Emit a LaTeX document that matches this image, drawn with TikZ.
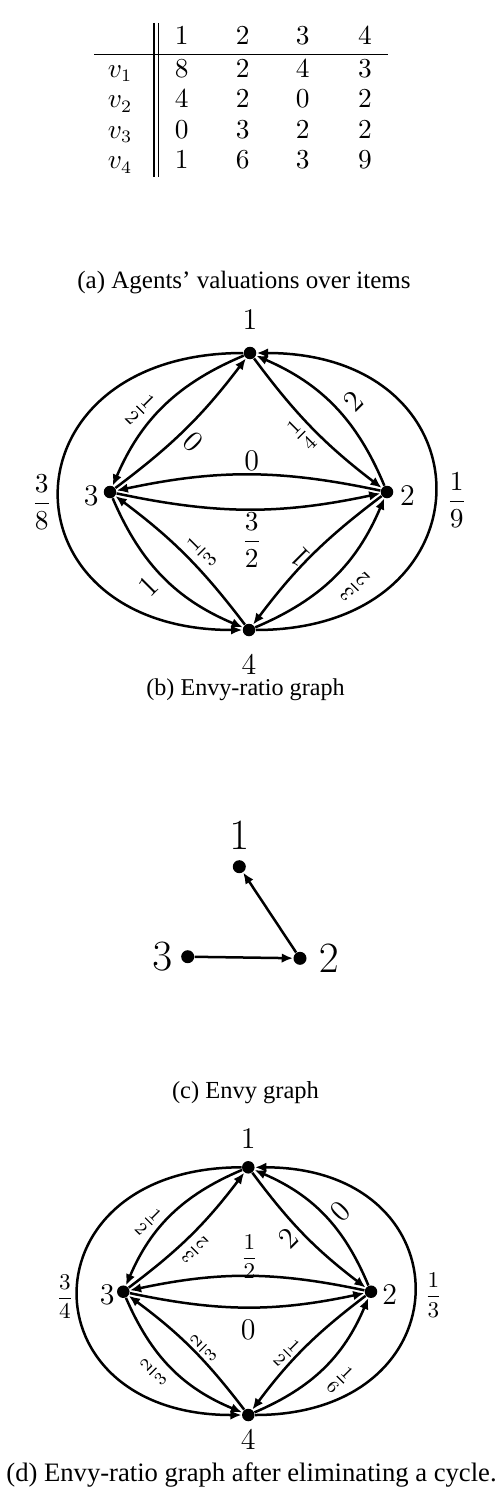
\documentclass[tikz,border=0pt]{standalone}
\usepackage{amsmath}
\usepackage{fontspec}
\newfontfamily\capfont{Liberation Serif}
\usetikzlibrary{arrows.meta, positioning}

\tikzset{
  vtx/.style={circle, fill=black, inner sep=0pt, minimum size=#1},
  vtx/.default=5pt,
  vname/.style={inner sep=0pt, font=\fontsize{#1}{#1}\selectfont},
  elbl/.style={inner sep=0pt, font=\fontsize{#1}{#1}\selectfont},
  earc/.style={line width=1pt, -{Latex[length=4.5pt,width=3.8pt]}},
  capt/.style={inner sep=0pt, font=\capfont\fontsize{#1}{#1}\selectfont},
  tcell/.style={inner sep=0pt, anchor=base, font=\fontsize{10.5}{12}\selectfont},
}

\begin{document}
\begin{tikzpicture}[x=0.4pt, y=-0.4pt]
  \useasboundingbox (0,0) rectangle (502,1498);

  % (a) 估值表
  \draw[line width=0.45pt] (94,54.3) -- (388,54.3);
  \draw[line width=0.45pt] (154,23) -- (154,177);
  \draw[line width=0.45pt] (158.3,23) -- (158.3,177);
  \foreach \k/\x in {1/181.7, 2/242.7, 3/302.7, 4/365} {
    \node[tcell] (h\k) at (\x,45) {$\k$};
  }
  \foreach \r/\y/\pa/\pb/\pc/\pd in {1/77.3/8/2/4/3, 2/108/4/2/0/2, 3/138.7/0/3/2/2, 4/169/1/6/3/9} {
    \node[tcell] (v\r) at (120,\y) {$v_\r$};
    \node[tcell] (t\r-1) at (181.7,\y) {$\pa$};
    \node[tcell] (t\r-2) at (242.7,\y) {$\pb$};
    \node[tcell] (t\r-3) at (302.7,\y) {$\pc$};
    \node[tcell] (t\r-4) at (365,\y) {$\pd$};
  }
  \node[capt=10] (capa) at (244,283) {(a) Agents’ valuations over items};

  % (b) 嫉妒比图
  \node[vtx] (b1) at (250,353) {};
  \node[vtx] (b2) at (387,492) {};
  \node[vtx] (b3) at (110,492) {};
  \node[vtx] (b4) at (249,630) {};
  \node[vname=12, above=6.3pt of b1] (nb1) {$1$};
  \node[vname=12, right=2.3pt of b2, yshift=-1.5pt] (nb2) {$2$};
  \node[vname=12, left=1.7pt of b3, yshift=-1.5pt] (nb3) {$3$};
  \node[vname=12, below=7.1pt of b4] (nb4) {$4$};

  % 边
  \foreach \s/\t/\bd in {1/3/22, 3/1/8, 1/2/8, 2/1/22, 2/3/12, 3/2/12, 4/3/8, 3/4/22, 2/4/8, 4/2/22} {
    \draw[earc] (b\s) to[bend right=\bd] (b\t);
  }
  \draw[earc] (b1) to[out=180, in=180, looseness=2.26] (b4);
  \draw[earc] (b4) to[out=0, in=0, looseness=2.2] (b1);

  % 边上的权重
  \node[elbl=12, rotate=-45] (w13) at (140,410) {$\frac{1}{2}$};
  \node[elbl=12, rotate=-45] (w31) at (193,442) {$0$};
  \node[elbl=12, rotate=45] (w12) at (301.7,435) {$\frac{1}{4}$};
  \node[elbl=12, rotate=45] (w21) at (353.3,401.7) {$2$};
  \node[elbl=12] (w23) at (251.7,460.7) {$0$};
  \node[elbl=10.5] (w32) at (251.7,540) {$\dfrac{3}{2}$};
  \node[elbl=12, rotate=45] (w43) at (201.7,551.7) {$\frac{1}{3}$};
  \node[elbl=12, rotate=45] (w34) at (148.3,586.7) {$1$};
  \node[elbl=12, rotate=135] (w24) at (300,556.7) {$1$};
  \node[elbl=12, rotate=135] (w42) at (355,586.7) {$\frac{3}{2}$};
  \node[elbl=10.5] (w14) at (41.7,502) {$\dfrac{3}{8}$};
  \node[elbl=10.5] (w41) at (456.7,500) {$\dfrac{1}{9}$};
  \node[capt=9.65] (capb) at (245.5,690) {(b) Envy-ratio graph};

  % (c) 嫉妒图
  \node[vtx=5.2pt] (c1) at (239.3,866.7) {};
  \node[vtx=5.2pt] (c2) at (300,958.3) {};
  \node[vtx=5.2pt] (c3) at (187.7,956.7) {};
  \node[vname=17, above=4pt of c1] (nc1) {$1$};
  \node[vname=17, right=4.5pt of c2] (nc2) {$2$};
  \node[vname=17, left=3.2pt of c3] (nc3) {$3$};
  \draw[earc] (c2) -- (c1);
  \draw[earc] (c3) -- (c2);
  \node[capt=9.8] (capc) at (245.5,1093) {(c) Envy graph};

  % (d) 消去一个环之后的嫉妒比图
  \node[vtx] (d1) at (248.3,1167.3) {};
  \node[vtx] (d2) at (371,1291.7) {};
  \node[vtx] (d3) at (123.3,1291.7) {};
  \node[vtx] (d4) at (248.3,1415) {};
  \node[vname=11.5, above=4.6pt of d1] (nd1) {$1$};
  \node[vname=11.5, right=1.6pt of d2, yshift=-1.3pt] (nd2) {$2$};
  \node[vname=11.5, left=0.6pt of d3, yshift=-1.3pt] (nd3) {$3$};
  \node[vname=11.5, below=3.1pt of d4] (nd4) {$4$};

  \foreach \s/\t/\bd in {1/3/22, 3/1/8, 1/2/8, 2/1/22, 2/3/12, 3/2/12, 4/3/8, 3/4/22, 2/4/8, 4/2/22} {
    \draw[earc] (d\s) to[bend right=\bd] (d\t);
  }
  \draw[earc] (d1) to[out=180, in=180, looseness=2.26] (d4);
  \draw[earc] (d4) to[out=0, in=0, looseness=2.2] (d1);

  \node[elbl=10.5, rotate=-45] (x13) at (148.3,1221.7) {$\frac{1}{2}$};
  \node[elbl=10.5, rotate=135] (x31) at (195,1250) {$\frac{3}{2}$};
  \node[elbl=12, rotate=45] (x12) at (288.3,1238.3) {$2$};
  \node[elbl=12, rotate=45] (x21) at (340,1211.7) {$0$};
  \node[elbl=9] (x23) at (249.3,1256.7) {$\dfrac{1}{2}$};
  \node[elbl=12] (x32) at (248.3,1330) {$0$};
  \node[elbl=10.5, rotate=45] (x43) at (203.3,1348.3) {$\frac{2}{3}$};
  \node[elbl=10.5, rotate=45] (x34) at (153.3,1371.7) {$\frac{2}{3}$};
  \node[elbl=10.5, rotate=-45] (x24) at (286.7,1353.3) {$\frac{1}{2}$};
  \node[elbl=10.5, rotate=-45] (x42) at (340,1380) {$\frac{1}{6}$};
  \node[elbl=9] (x14) at (65,1296.7) {$\dfrac{3}{4}$};
  \node[elbl=9] (x41) at (433.3,1295) {$\dfrac{1}{3}$};
  \node[capt=10.65] (capd) at (251.5,1475) {(d) Envy-ratio graph after eliminating a cycle.};
\end{tikzpicture}
\end{document}
